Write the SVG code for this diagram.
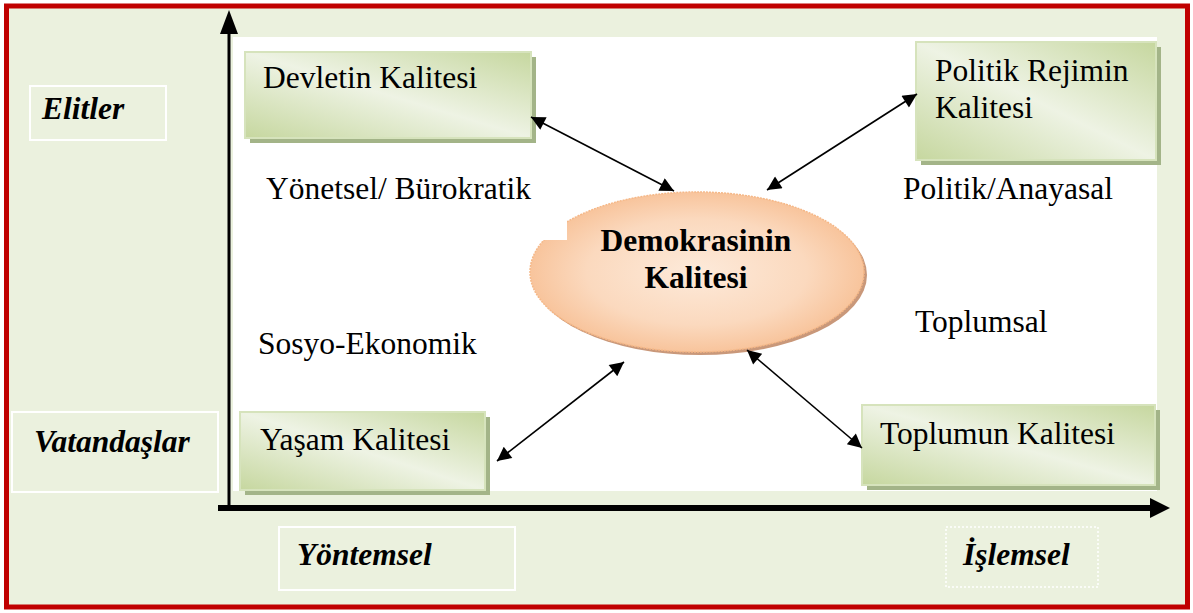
<svg xmlns="http://www.w3.org/2000/svg" width="1193" height="613" viewBox="0 0 1193 613">
<defs>
<style>
.t{font-family:"Liberation Serif","Times New Roman",serif;font-size:31.5px;fill:#000}
.bi{font-weight:bold;font-style:italic}
.b{font-weight:bold}
.lbl{fill:#EBF1DE;stroke:#FFFFFF;stroke-width:2}
.gbox{fill:url(#gg);stroke:#D6E3BC;stroke-width:2}
.gsh{fill:#A3B488}
.conn{stroke:#000;stroke-width:1.6;fill:none;marker-start:url(#ah);marker-end:url(#ah)}
</style>
<linearGradient id="gg" x1="0" y1="1" x2="1" y2="0">
<stop offset="0" stop-color="#C6D79F"/>
<stop offset="0.5" stop-color="#EEF3E4"/>
<stop offset="1" stop-color="#C6D79F"/>
</linearGradient>
<radialGradient id="eg" cx="0.5" cy="0.5" r="0.55">
<stop offset="0" stop-color="#FDEADA"/>
<stop offset="0.6" stop-color="#FBD9BE"/>
<stop offset="1" stop-color="#F7BE92"/>
</radialGradient>
<marker id="ah" viewBox="0 0 10 10" refX="10" refY="5" markerWidth="20" markerHeight="14" markerUnits="userSpaceOnUse" orient="auto-start-reverse">
<path d="M0,0 L10,5 L0,10 z" fill="#000"/>
</marker>
</defs>

<rect x="6.5" y="6" width="1181" height="601" fill="#EBF1DE" stroke="#C00000" stroke-width="5"/>
<rect x="233" y="37" width="924" height="454" fill="#FFFFFF"/>

<g id="axes">
<line x1="229" y1="506" x2="229" y2="32" stroke="#000" stroke-width="3"/>
<polygon points="229,10 220,34 238,34" fill="#000"/>
<line x1="218" y1="508" x2="1152" y2="508" stroke="#000" stroke-width="6"/>
<polygon points="1170,508 1150,498 1150,518" fill="#000"/>
</g>

<g id="elitler">
<rect class="lbl" x="30" y="86" width="136" height="54"/>
<text class="t bi" x="42" y="119">Elitler</text>
</g>
<g id="vatandaslar">
<rect class="lbl" x="12" y="412" width="206" height="80"/>
<text class="t bi" x="34" y="452">Vatandaşlar</text>
</g>
<g id="yontemsel">
<rect class="lbl" x="279" y="527" width="236" height="63"/>
<text class="t bi" x="297" y="565">Yöntemsel</text>
</g>
<g id="islemsel">
<rect x="946" y="527" width="152" height="60" fill="#EBF1DE" stroke="#FFFFFF" stroke-width="1.5" stroke-dasharray="2,2"/>
<text class="t bi" x="963" y="565">İşlemsel</text>
</g>

<g id="devletin">
<rect class="gsh" x="250" y="57" width="286" height="86"/>
<rect class="gbox" x="245" y="52" width="286" height="86"/>
<text class="t" x="263" y="88">Devletin Kalitesi</text>
</g>
<g id="politik">
<rect class="gsh" x="921" y="47" width="240" height="118"/>
<rect class="gbox" x="916" y="42" width="240" height="118"/>
<text class="t" x="935" y="81">Politik Rejimin</text>
<text class="t" x="935" y="118">Kalitesi</text>
</g>
<g id="yasam">
<rect class="gsh" x="245" y="417" width="245" height="78"/>
<rect class="gbox" x="240" y="412" width="245" height="78"/>
<text class="t" x="260" y="450">Yaşam Kalitesi</text>
</g>
<g id="toplumun">
<rect class="gsh" x="867" y="410" width="293" height="80"/>
<rect class="gbox" x="862" y="405" width="293" height="80"/>
<text class="t" x="880" y="444">Toplumun Kalitesi</text>
</g>

<text class="t" x="266" y="199">Yönetsel/ Bürokratik</text>
<text class="t" x="903" y="199">Politik/Anayasal</text>
<text class="t" x="258" y="354">Sosyo-Ekonomik</text>
<text class="t" x="915" y="332">Toplumsal</text>

<g id="demokrasi">
<ellipse cx="700" cy="275" rx="167" ry="80" fill="#C9987A"/>
<ellipse cx="697" cy="272" rx="167" ry="80" fill="url(#eg)" stroke="#F5B888" stroke-width="1.5" stroke-dasharray="2,1"/>
<rect x="535" y="208" width="32" height="32" fill="#FFFFFF"/>
<text class="t b" x="696" y="251" text-anchor="middle">Demokrasinin</text>
<text class="t b" x="696" y="288" text-anchor="middle">Kalitesi</text>
</g>

<g id="connectors">
<line class="conn" x1="531" y1="117" x2="674" y2="191"/>
<line class="conn" x1="917" y1="94" x2="767" y2="190"/>
<line class="conn" x1="497" y1="461" x2="624" y2="362"/>
<line class="conn" x1="747" y1="350" x2="862" y2="448"/>
</g>
</svg>
